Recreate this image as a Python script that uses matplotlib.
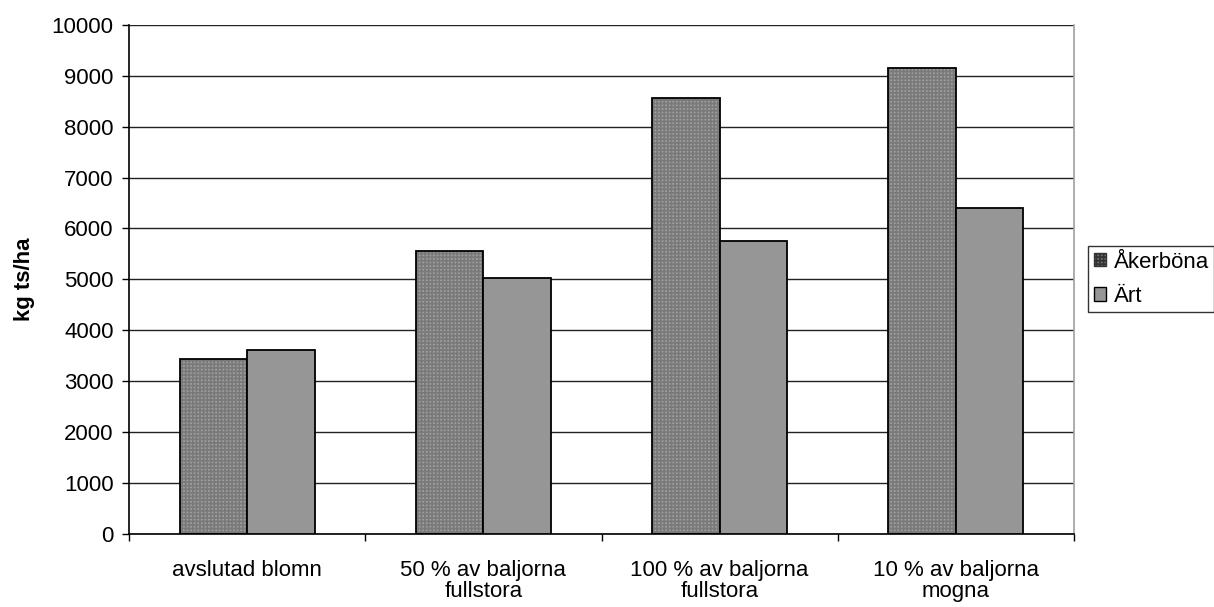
import numpy as np
import matplotlib
matplotlib.use("Agg")
import matplotlib.pyplot as plt
import matplotlib.patches as mpatches

categories = ["avslutad blomn", "50 % av baljorna\nfullstora",
              "100 % av baljorna\nfullstora", "10 % av baljorna\nmogna"]
akerbona = [3430, 5560, 8560, 9150]
art = [3600, 5020, 5760, 6400]
series_names = ["Åkerböna", "Ärt"]

plt.rcParams['font.family'] = ['Liberation Sans', 'DejaVu Sans']
plt.rcParams['hatch.linewidth'] = 0.5

fig = plt.figure(figsize=(12.14, 6.07), dpi=100)
ax = fig.add_axes([129 / 1214, 1 - 533.5 / 607, (1074 - 129) / 1214, (533.5 - 25) / 607])

x = np.arange(len(categories))
w = 1 / 3.5
hatch_col = '#7a7a7a'
hatch_face = '#dcdcdc'
hatch_pat = '+' * 12

# hatched bars, then black outlines on top
ax.bar(x - w / 2, akerbona, w, facecolor=hatch_face, edgecolor=hatch_col,
       hatch=hatch_pat, linewidth=0, zorder=2)
ax.bar(x - w / 2, akerbona, w, fill=False, edgecolor='black', linewidth=1.3, zorder=3)
ax.bar(x + w / 2, art, w, facecolor='#969696', edgecolor='black', linewidth=1.3, zorder=3)

ax.set_xlim(-0.5, len(categories) - 0.5)
ax.set_ylim(0, 10000)
ax.set_yticks(np.arange(0, 10001, 1000))
ax.yaxis.grid(True, color='#222222', linewidth=1.0, zorder=0)
ax.set_axisbelow(True)

ax.set_xticks(x)
ax.set_xticklabels(categories, fontsize=16, linespacing=1.0)
ax.set_xticks(np.arange(-0.5, len(categories), 1), minor=True)
ax.tick_params(axis='x', which='major', length=0, pad=19)
ax.tick_params(axis='x', which='minor', length=5, width=1, color='black', direction='out')
ax.tick_params(axis='y', length=5, width=1, labelsize=16, pad=6, direction='out')

ax.spines['top'].set_visible(False)
ax.spines['right'].set_color('#a0a0a0')
ax.spines['right'].set_linewidth(1.2)
ax.spines['left'].set_linewidth(1.2)
ax.spines['bottom'].set_linewidth(1.2)

ax.set_ylabel("kg ts/ha", fontsize=16, fontweight='bold', labelpad=12)

handles = [
    mpatches.Patch(facecolor=hatch_face, edgecolor='#333333', hatch=hatch_pat, linewidth=1),
    mpatches.Patch(facecolor='#969696', edgecolor='black', linewidth=1),
]
leg = fig.legend(handles, series_names, loc='upper left',
                 bbox_to_anchor=(1088 / 1214, 1 - 246 / 607),
                 fontsize=16, frameon=True, fancybox=False, borderaxespad=0,
                 borderpad=0.25, handlelength=0.55, handleheight=0.55,
                 handletextpad=0.35, labelspacing=0.6)
leg.get_frame().set_edgecolor('black')
leg.get_frame().set_linewidth(1.0)

fig.savefig("out.png", dpi=100)
